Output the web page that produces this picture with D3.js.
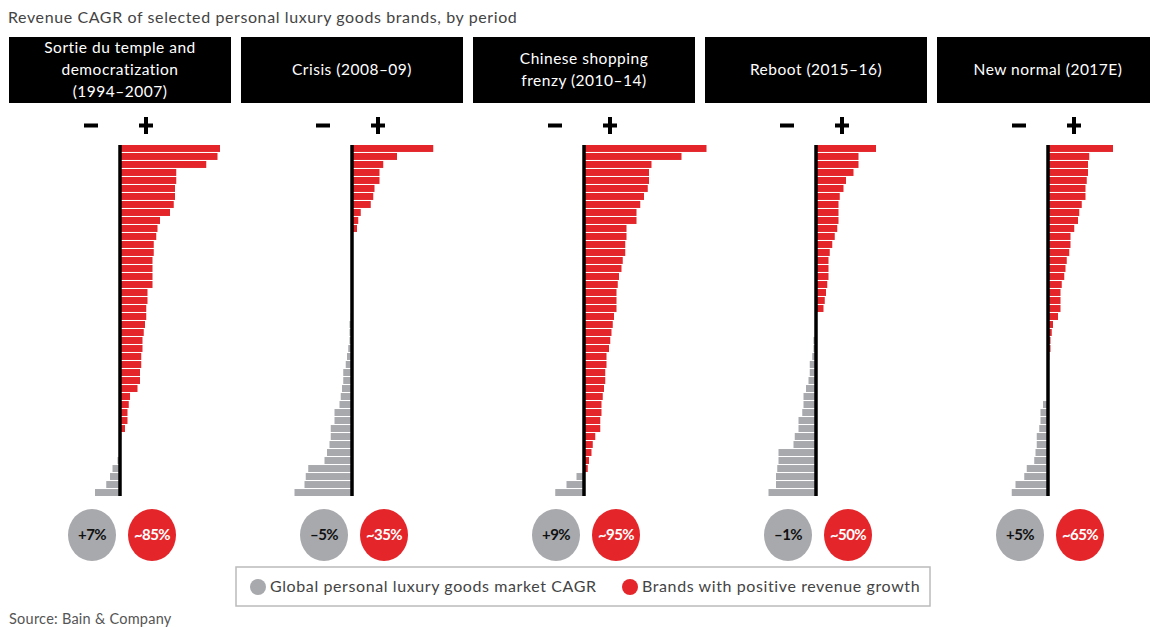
<!DOCTYPE html>
<html>
<head>
<meta charset="utf-8">
<script src="https://cdn.jsdelivr.net/npm/d3@7"></script>
<style>
    body { margin: 0; background: #fff; }
    text { font-family: Lato, "Liberation Sans", sans-serif; }
</style>
</head>
<body>
<div id="chart"></div>
<script>

// header text for each period (one entry per line)
var periods = [
    ["Sortie du temple and", "democratization", "(1994\u20132007)"],
    ["Crisis (2008\u201309)"],
    ["Chinese shopping", "frenzy (2010\u201314)"],
    ["Reboot (2015\u201316)"],
    ["New normal (2017E)"]
];

var marketCagr = ["+7%", "\u20135%", "+9%", "\u20131%", "+5%"];
var brandShare = ["~85%", "~35%", "~95%", "~50%", "~65%"];

// revenue CAGR (%) of each brand, sorted
var sortie = [40, 39, 34.5, 22.5, 22.5, 22, 22, 21.5, 20, 16, 15, 14.5, 13.5, 13.5, 13, 13, 13, 13, 11, 11,
              10.5, 10.5, 10, 9.5, 9, 9, 8.5, 8.5, 8, 8, 7, 4, 3.5, 3, 3, 2, 0.5, 0, 0, -1, -3, -4, -5.5, -10];
var crisis = [32.5, 18, 12.5, 11, 11, 9, 8.5, 7.5, 3.5, 2.5, 2, 0, 0, 0, 0, 0, 0, 0, 0, 0, 0,
              -0.5, -1, -1, -1, -1.5, -2, -2.5, -3.5, -3.5, -4, -4.5, -5, -7, -7, -8.5, -8.5, -9, -10, -11,
              -17.5, -18.5, -19, -23];
var chinese = [49, 39, 27, 26, 26, 25.5, 24, 22.5, 21, 21, 17, 17, 16.5, 16.5, 15.5, 15, 14, 13.5, 13, 13,
               13, 12, 11.5, 11, 10.5, 10, 9, 9, 8.5, 8.5, 8, 7.5, 7, 7, 6.5, 6.5, 4.5, 3.5, 3, 2,
               1.5, -3, -7, -11.5];
var reboot = [24, 17, 17, 15, 12, 11, 9.5, 9, 9, 9, 8.5, 7.5, 6.5, 5.5, 5, 5, 5, 4.5, 4, 3.5, 3, 0, 0, 0,
              -1, -1, -1.5, -2.5, -2.5, -3, -4, -5, -5, -5.5, -7, -7, -8.5, -9, -15, -15, -15.5, -16, -16, -19];
var newNormal = [26, 16.5, 16, 16, 15.5, 15, 15, 13.5, 12.5, 12, 10.5, 9, 9, 8.5, 7.5, 7, 6.5, 5.5, 5, 5,
                 5, 4, 2, 1.5, 1, 1, 0.5, 0, 0, 0, 0, 0,
                 -2, -3, -3, -3.5, -4.5, -4.5, -5, -5.5, -8.5, -9.5, -13, -14.5];

var panelData = [sortie, crisis, chinese, reboot, newNormal];

var legendItems = ["Global personal luxury goods market CAGR", "Brands with positive revenue growth"];

var red = "#e4262b",
    grey = "#a8a9ad";

var width = 1155,
    height = 627;

var boxLeft = 9, boxWidth = 222, boxStep = 232,
    boxTop = 37, boxHeight = 66;

var barTop = 145, barBottom = 496;

var svg = d3.select("#chart")
            .append("svg")
            .attr("width", width)
            .attr("height", height);

// title
svg.append("text")
    .attr("x", 8)
    .attr("y", 23)
    .style("font-size", "16px")
    .style("letter-spacing", "0.6px")
    .style("fill", "#444")
    .text("Revenue CAGR of selected personal luxury goods brands, by period");

// shared scales: % -> px (same for every panel)
var x = d3.scaleLinear()
    .domain([0, 10])
    .range([0, 25]);

var y = d3.scaleBand()
    .domain(d3.range(sortie.length))
    .range([barTop, barBottom])
    .paddingInner(0.13);

for (var i = 0; i < panelData.length; i++)
{
    drawPanel(i);
}

drawLegend();

svg.append("text")
    .attr("x", 9)
    .attr("y", 624)
    .style("font-size", "14.5px")
    .style("letter-spacing", "0.25px")
    .style("fill", "#555")
    .text("Source: Bain & Company");


function drawPanel(i)
{
    var left = boxLeft + i * boxStep;
    var w = Math.min(boxWidth, 1150 - left);
    var cx = left + boxWidth / 2;

    var g = svg.append("g");

    // header box
    g.append("rect")
        .attr("x", left)
        .attr("y", boxTop)
        .attr("width", w)
        .attr("height", boxHeight)
        .style("fill", "#000");

    var lines = periods[i];
    var lineH = 22;
    var firstY = boxTop + boxHeight / 2 - (lines.length - 1) * lineH / 2 + 5;
    g.selectAll("text.head")
        .data(lines)
        .enter()
        .append("text")
        .attr("class", "head")
        .attr("x", cx)
        .attr("y", function(d, k) { return firstY + k * lineH; })
        .attr("text-anchor", "middle")
        .style("font-size", "15.5px")
        .style("letter-spacing", "0.5px")
        .style("fill", "#fff")
        .text(function(d) { return d; });

    // minus / plus signs
    g.append("rect")
        .attr("x", cx - 36)
        .attr("y", 123.5)
        .attr("width", 14)
        .attr("height", 4)
        .style("fill", "#000");
    g.append("rect")
        .attr("x", cx + 19)
        .attr("y", 123.5)
        .attr("width", 14)
        .attr("height", 4)
        .style("fill", "#000");
    g.append("rect")
        .attr("x", cx + 24)
        .attr("y", 117)
        .attr("width", 4)
        .attr("height", 17)
        .style("fill", "#000");

    // bars
    var data = panelData[i];
    var bars = g.append("g")
        .attr("transform", "translate(" + cx + ",0)");

    bars.selectAll("rect")
        .data(data)
        .enter()
        .append("rect")
        .attr("x", function(d) { return d >= 0 ? x(0) : x(d); })
        .attr("y", function(d, k) { return y(k); })
        .attr("width", function(d) { return Math.abs(x(d) - x(0)); })
        .attr("height", y.bandwidth())
        .style("fill", function(d) { return d >= 0 ? red : grey; });

    // zero axis
    bars.append("line")
        .attr("x1", x(0))
        .attr("x2", x(0))
        .attr("y1", barTop)
        .attr("y2", barBottom)
        .style("stroke", "#000")
        .style("stroke-width", 3.5);

    // summary bubbles
    var bubbles = [
        {cx: cx - 28, fill: grey, color: "#111", label: marketCagr[i]},
        {cx: cx + 32, fill: red, color: "#fff", label: brandShare[i]}
    ];

    g.selectAll("ellipse")
        .data(bubbles)
        .enter()
        .append("ellipse")
        .attr("cx", function(d) { return d.cx; })
        .attr("cy", 535)
        .attr("rx", 24)
        .attr("ry", 26)
        .style("fill", function(d) { return d.fill; });

    g.selectAll("text.bubble")
        .data(bubbles)
        .enter()
        .append("text")
        .attr("class", "bubble")
        .attr("x", function(d) { return d.cx; })
        .attr("y", 540)
        .attr("text-anchor", "middle")
        .style("font-size", "15px")
        .style("font-weight", "bold")
        .style("letter-spacing", "-0.6px")
        .style("fill", function(d) { return d.color; })
        .text(function(d) { return d.label; });
}


function drawLegend()
{
    var lg = svg.append("g");

    lg.append("rect")
        .attr("x", 236)
        .attr("y", 567)
        .attr("width", 694)
        .attr("height", 39)
        .style("fill", "#fff")
        .style("stroke", "#bbb")
        .style("stroke-width", 1.5);

    var items = [
        {x: 258, fill: grey, label: legendItems[0]},
        {x: 630, fill: red, label: legendItems[1]}
    ];

    lg.selectAll("circle")
        .data(items)
        .enter()
        .append("circle")
        .attr("cx", function(d) { return d.x; })
        .attr("cy", 587)
        .attr("r", 8)
        .style("fill", function(d) { return d.fill; });

    lg.selectAll("text")
        .data(items)
        .enter()
        .append("text")
        .attr("x", function(d) { return d.x + 12; })
        .attr("y", 592)
        .style("font-size", "16px")
        .style("letter-spacing", "0.6px")
        .style("fill", "#444")
        .text(function(d) { return d.label; });
}

</script>
</body>
</html>
